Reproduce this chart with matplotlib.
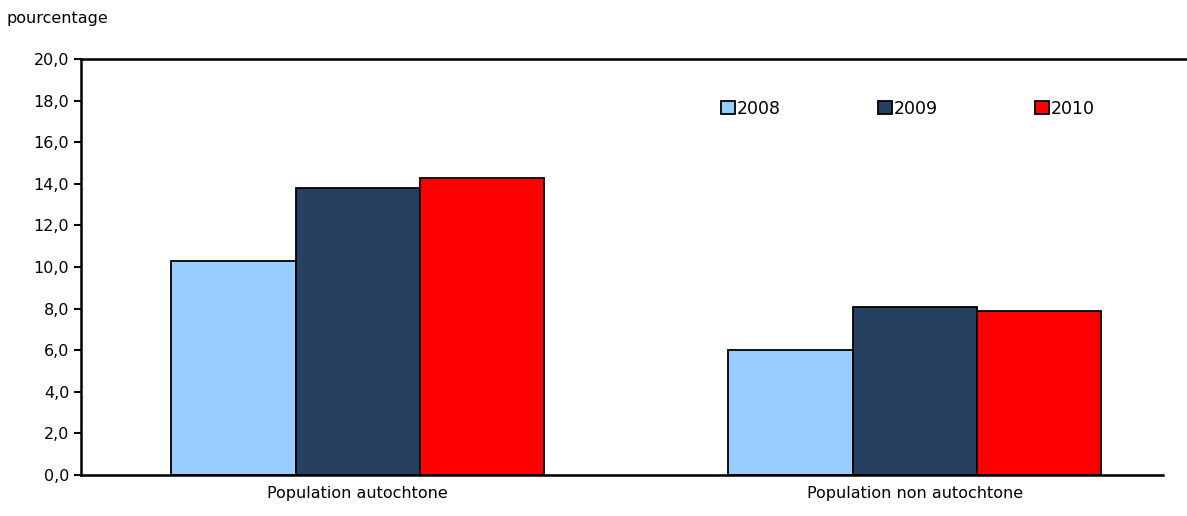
import numpy as np
import matplotlib.pyplot as plt

categories = ["Population autochtone", "Population non autochtone"]
years = ["2008", "2009", "2010"]
values = {
    "2008": [10.3, 6.0],
    "2009": [13.8, 8.1],
    "2010": [14.3, 7.9],
}
colors = ["#99ccff", "#254061", "#ff0000"]

plt.rcParams['font.family'] = ['Verdana', 'DejaVu Sans']
plt.rcParams['font.size'] = 11.5

fig = plt.figure(figsize=(11.87, 5.16), dpi=100)
ax = fig.add_axes([81/1187, 1-475/516, (1163-81)/1187, (475-59)/516])

x = np.arange(len(categories))
w = 0.223
for i, (yr, c) in enumerate(zip(years, colors)):
    ax.bar(x + (i-1)*w, values[yr], w, color=c, edgecolor="black", linewidth=1.3, label=yr)

ax.set_xlim(-0.497, 1.446)
ax.set_ylim(0, 20)
ax.set_yticks(np.arange(0, 21, 2))
ax.set_yticklabels([f"{v:.1f}".replace(".", ",") for v in np.arange(0, 21, 2)])
ax.set_xticks(x)
ax.set_xticklabels(categories)
ax.tick_params(axis="x", length=0, pad=8)
ax.tick_params(axis="y", direction="out", length=5, width=1.5)
for s in ["top", "right"]:
    ax.spines[s].set_visible(False)
for s in ["left", "bottom"]:
    ax.spines[s].set_linewidth(1.8)
ax.plot([0, 1.03], [20, 20], color="black", lw=1.8, transform=ax.get_yaxis_transform(), clip_on=False)

ax.legend(loc="upper left", bbox_to_anchor=(0.577, 0.94), ncol=3, frameon=False,
          handlelength=0.8, handleheight=0.8, handletextpad=0.1, columnspacing=5.6, fontsize=12.5)
fig.text(7/1187, 1-18/516, "pourcentage", va="center", fontsize=11.5)

fig.savefig("out.png", dpi=100)
